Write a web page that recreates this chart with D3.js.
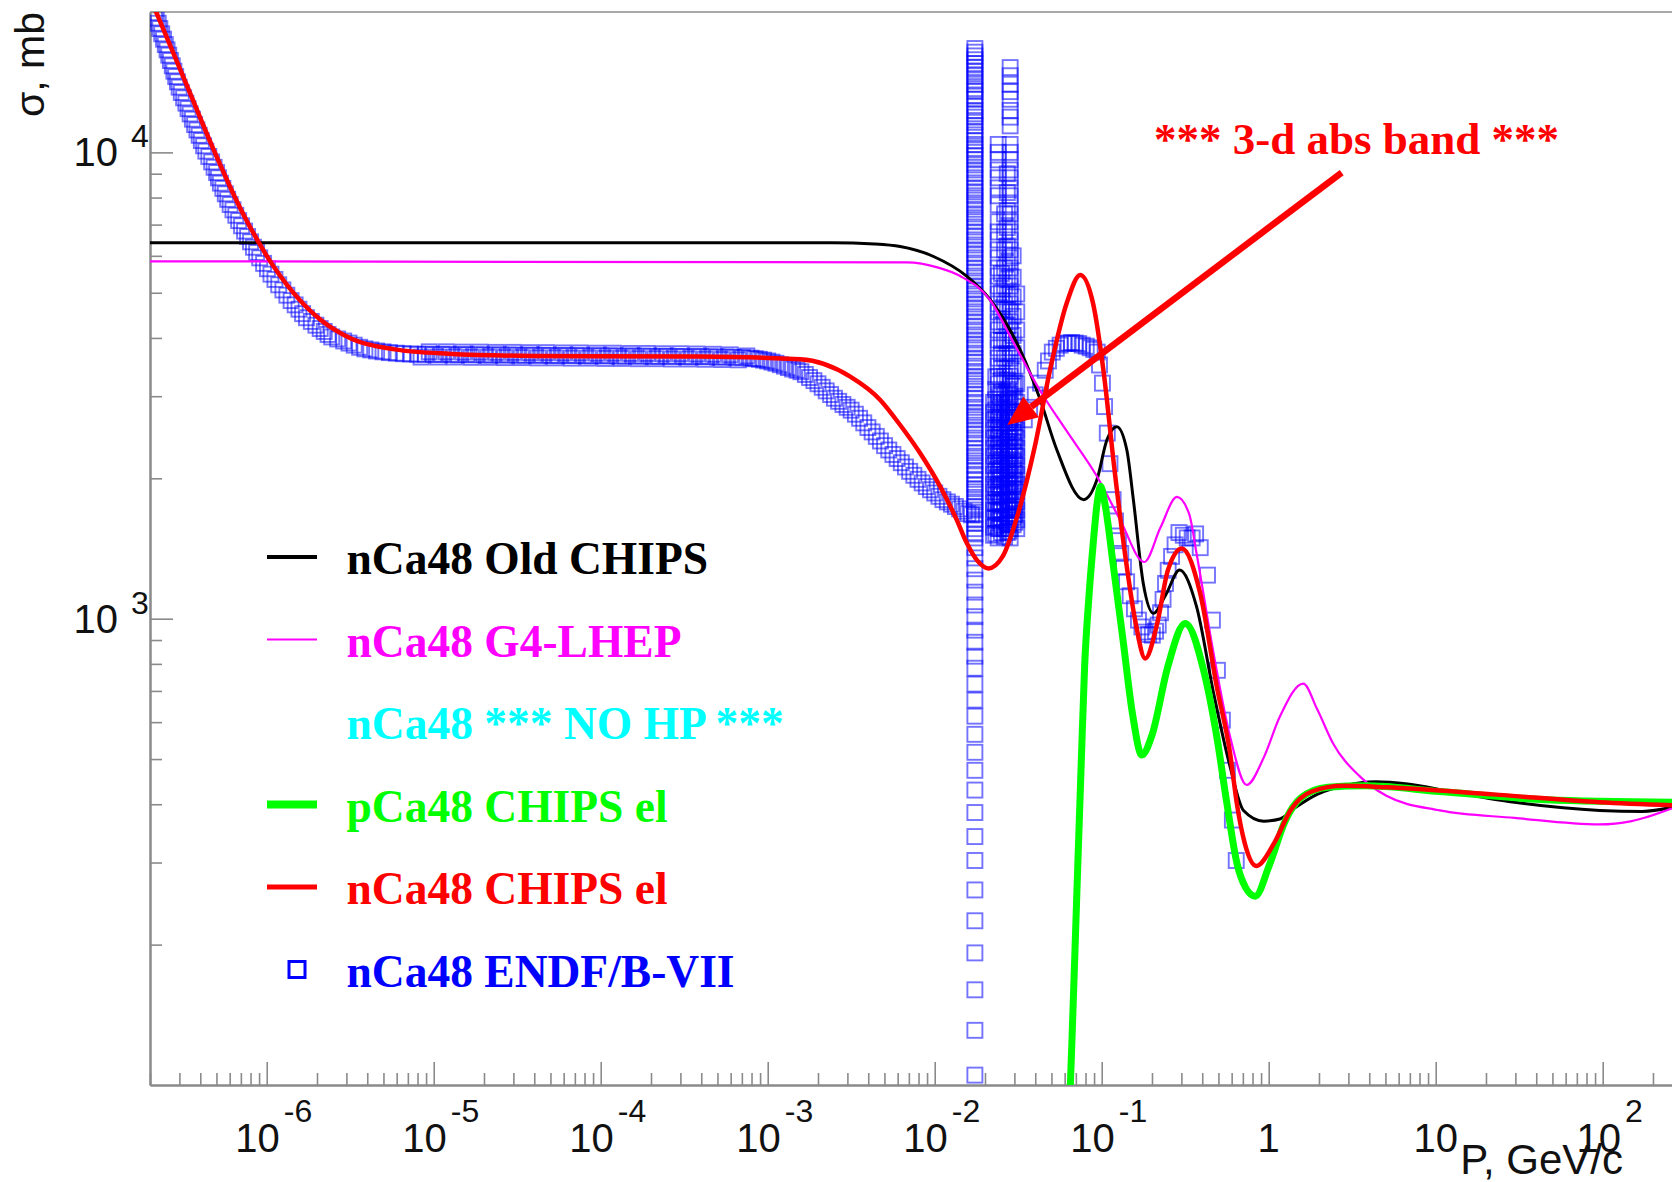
<!DOCTYPE html>
<html>
<head>
<meta charset="utf-8">
<script src="https://cdn.jsdelivr.net/npm/d3@7"></script>
<style>
  html, body { margin: 0; padding: 0; background: #fff; }
  svg { display: block; }
</style>
</head>
<body>
<svg id="chart" width="1672" height="1182"></svg>
<script>
// ---- Data: momentum P [GeV/c], cross section sigma [mb] ----

const oldChips = [
  [2.0e-7, 6400], [2.42e-3, 6400], [4.36e-3, 6360], [6.21e-3, 6280], [9.84e-3, 5980],
  [0.0156, 5420], [0.0215, 4830], [0.0325, 3770], [0.0428, 2950], [0.0539, 2300],
  [0.0779, 1800], [0.0936, 1985], [0.1075, 2420], [0.1232, 2580], [0.1414, 2300],
  [0.1547, 1800], [0.1774, 1190], [0.2040, 1027], [0.2416, 1124], [0.2926, 1271],
  [0.3698, 1061], [0.4679, 692], [0.5875, 481], [0.7063, 388], [0.934, 368],
  [1.165, 372], [1.452, 394], [1.949, 420], [2.814, 438], [4.375, 447],
  [6.80, 442], [12.25, 426], [29.6, 404], [95.9, 388], [172.7, 386], [260.6, 394]
];

const g4Lhep = [
  [2.0e-7, 5840], [6.79e-3, 5810], [0.0105, 5660], [0.0142, 5430], [0.0214, 4830],
  [0.0295, 3920], [0.0426, 3090], [0.0615, 2530], [0.0936, 2020], [0.1284, 1634],
  [0.1800, 1323], [0.2245, 1566], [0.2818, 1824], [0.3339, 1677], [0.3698, 1380],
  [0.4679, 841], [0.5875, 558], [0.7383, 440], [0.9344, 504], [1.165, 616],
  [1.610, 726], [1.949, 640], [2.430, 540], [3.510, 459], [5.066, 417],
  [10.57, 388], [29.58, 374], [95.9, 362], [149, 368], [260.5, 392]
];

const pCa48El = [
  [0.0634, 79.8], [0.0662, 121.7], [0.0692, 195.4], [0.0723, 314], [0.0756, 504],
  [0.0790, 789], [0.0838, 1112], [0.0889, 1447], [0.0942, 1786], [0.0985, 1923],
  [0.1044, 1768], [0.1175, 1296], [0.1341, 901], [0.1531, 623], [0.1739, 510],
  [0.1995, 561], [0.2487, 789], [0.3160, 977], [0.4070, 777], [0.4891, 558],
  [0.5616, 402], [0.6466, 298], [0.7275, 265], [0.8302, 254], [1.005, 295],
  [1.253, 368], [1.562, 413], [2.256, 435], [3.775, 438], [10.56, 426],
  [45.96, 409], [260.4, 404]
];

const nCa48El = [
  [2.0e-7, 21500], [3.32e-7, 13940], [4.80e-7, 10150], [6.93e-7, 7600], [1.0e-6, 6000],
  [1.45e-6, 4990], [2.09e-6, 4380], [3.24e-6, 3980], [5.85e-6, 3780], [1.22e-5, 3700],
  [3.95e-5, 3660], [3.94e-4, 3648], [1.566e-3, 3599], [3.12e-3, 3304], [4.717e-3, 2945],
  [6.209e-3, 2602], [8.185e-3, 2263], [0.01079, 1919], [0.01357, 1627], [0.01559, 1451],
  [0.01789, 1335], [0.02101, 1282], [0.02547, 1358], [0.03176, 1695], [0.0396, 2325],
  [0.04935, 3451], [0.06154, 4734], [0.07449, 5458], [0.08885, 4734], [0.1029, 3361],
  [0.1192, 2092], [0.1381, 1372], [0.1600, 975], [0.1821, 822], [0.2147, 975],
  [0.2487, 1268], [0.3020, 1415], [0.3889, 1133], [0.4891, 714], [0.5875, 514],
  [0.6447, 401], [0.7171, 331], [0.8428, 295], [1.082, 331], [1.349, 388],
  [1.811, 426], [2.814, 438], [5.067, 435], [22.04, 420], [95.9, 404], [260.6, 398]
];

// ENDF/B-VII evaluated points: smooth low-momentum region
const endfLow = [
  [2.13e-7, 19940], [2.18e-7, 19420], [2.24e-7, 18920], [2.29e-7, 18430], [2.35e-7, 17960],
  [2.41e-7, 17490], [2.47e-7, 17030], [2.53e-7, 16590], [2.59e-7, 16160], [2.65e-7, 15740],
  [2.72e-7, 15330], [2.78e-7, 14930], [2.85e-7, 14540], [2.92e-7, 14170], [2.99e-7, 13800],
  [3.08e-7, 13440], [3.18e-7, 13090], [3.28e-7, 12750], [3.38e-7, 12410], [3.48e-7, 12090],
  [3.59e-7, 11780], [3.70e-7, 11470], [3.82e-7, 11170], [3.94e-7, 10880], [4.06e-7, 10600],
  [4.19e-7, 10330], [4.32e-7, 10060], [4.50e-7, 9800], [4.68e-7, 9540], [4.84e-7, 9290],
  [5.01e-7, 9050], [5.14e-7, 8820], [5.28e-7, 8590], [5.46e-7, 8370], [5.65e-7, 8150],
  [5.84e-7, 7930], [6.04e-7, 7730], [6.28e-7, 7530], [6.53e-7, 7330], [6.79e-7, 7140],
  [7.07e-7, 6960], [7.37e-7, 6780], [7.68e-7, 6600], [8.0e-7, 6430], [8.33e-7, 6260],
  [8.70e-7, 6100], [9.08e-7, 5940], [9.58e-7, 5780], [1.01e-6, 5630], [1.06e-6, 5480],
  [1.12e-6, 5340], [1.18e-6, 5200], [1.25e-6, 5070], [1.32e-6, 4940], [1.40e-6, 4810],
  [1.48e-6, 4710], [1.56e-6, 4610], [1.64e-6, 4510], [1.73e-6, 4420], [1.85e-6, 4340],
  [1.97e-6, 4260], [2.09e-6, 4190], [2.21e-6, 4130], [2.33e-6, 4070], [2.45e-6, 4020],
  [2.66e-6, 3980], [2.89e-6, 3940], [3.11e-6, 3900], [3.34e-6, 3860], [3.60e-6, 3820],
  [3.87e-6, 3790], [4.20e-6, 3770], [4.55e-6, 3750], [4.97e-6, 3735], [5.43e-6, 3720],
  [5.97e-6, 3710], [6.57e-6, 3700], [7.25e-6, 3695],
  [8.0e-6, 3690], [8.4e-6, 3640], [8.9e-6, 3690], [9.4e-6, 3735], [1.0e-5, 3685],
  [1.06e-5, 3640], [1.12e-5, 3690], [1.19e-5, 3735], [1.26e-5, 3685], [1.33e-5, 3640],
  [1.41e-5, 3680], [1.50e-5, 3730], [1.58e-5, 3685], [1.68e-5, 3635], [1.78e-5, 3680],
  [1.89e-5, 3730], [2.0e-5, 3680], [2.12e-5, 3635], [2.24e-5, 3675], [2.37e-5, 3725],
  [2.51e-5, 3680], [2.66e-5, 3630], [2.82e-5, 3675], [2.99e-5, 3725], [3.16e-5, 3675],
  [3.35e-5, 3630], [3.55e-5, 3670], [3.76e-5, 3720], [3.98e-5, 3675], [4.22e-5, 3625],
  [4.47e-5, 3670], [4.73e-5, 3720], [5.01e-5, 3670], [5.31e-5, 3625], [5.62e-5, 3665],
  [5.96e-5, 3715], [6.31e-5, 3670], [6.68e-5, 3620], [7.08e-5, 3665], [7.50e-5, 3715],
  [7.94e-5, 3665], [8.41e-5, 3620], [8.91e-5, 3660], [9.44e-5, 3710], [1.0e-4, 3665],
  [1.06e-4, 3615], [1.12e-4, 3660], [1.19e-4, 3710], [1.26e-4, 3660], [1.33e-4, 3615],
  [1.41e-4, 3655], [1.50e-4, 3705], [1.58e-4, 3660], [1.68e-4, 3610], [1.78e-4, 3655],
  [1.89e-4, 3705], [2.0e-4, 3655], [2.12e-4, 3610], [2.24e-4, 3650], [2.37e-4, 3700],
  [2.51e-4, 3655], [2.66e-4, 3605], [2.82e-4, 3650], [2.99e-4, 3700], [3.16e-4, 3650],
  [3.35e-4, 3605], [3.55e-4, 3645], [3.76e-4, 3695], [3.98e-4, 3650], [4.22e-4, 3600],
  [4.47e-4, 3645], [4.73e-4, 3690], [5.01e-4, 3640], [5.31e-4, 3595], [5.62e-4, 3640],
  [5.96e-4, 3680], [6.31e-4, 3635], [6.68e-4, 3590], [7.08e-4, 3630], [7.50e-4, 3660],
  [7.94e-4, 3620], [8.41e-4, 3610], [8.91e-4, 3600], [9.44e-4, 3585], [1.0e-3, 3570],
  [1.06e-3, 3550], [1.12e-3, 3530], [1.19e-3, 3505], [1.26e-3, 3480], [1.33e-3, 3455],
  [1.41e-3, 3430], [1.50e-3, 3410], [1.58e-3, 3385], [1.68e-3, 3340], [1.78e-3, 3290],
  [1.89e-3, 3240], [2.0e-3, 3190], [2.12e-3, 3135], [2.24e-3, 3080], [2.38e-3, 3025],
  [2.51e-3, 2970], [2.66e-3, 2925], [2.82e-3, 2880], [2.99e-3, 2840], [3.16e-3, 2800],
  [3.35e-3, 2745], [3.55e-3, 2690], [3.76e-3, 2630], [3.98e-3, 2570], [4.22e-3, 2515],
  [4.47e-3, 2460], [4.73e-3, 2405], [5.01e-3, 2350], [5.31e-3, 2300], [5.62e-3, 2250],
  [5.96e-3, 2205], [6.31e-3, 2160], [6.68e-3, 2115], [7.08e-3, 2070], [7.50e-3, 2030],
  [7.94e-3, 1990], [8.41e-3, 1955], [8.91e-3, 1920], [9.44e-3, 1890], [1.0e-2, 1860],
  [1.06e-2, 1830], [1.12e-2, 1800], [1.19e-2, 1780], [1.26e-2, 1760], [1.33e-2, 1740],
  [1.41e-2, 1720], [1.50e-2, 1700], [1.58e-2, 1680], [1.66e-2, 1670]
];

// ENDF/B-VII resonances: narrow in momentum, each one a column of points
const endfResonances = [
  { p: 0.0174, sigma: [16700, 16400, 16100, 15800, 15500, 15200, 14900,
      14600, 14300, 14000, 13700, 13500, 13200, 13000, 12600, 12300, 12100, 11900, 11600, 11400,
      11100, 10900, 10600, 10400, 10200, 10000, 9820, 9640, 9400, 9170, 9000, 8820, 8600, 8390,
      8230, 8070, 7900, 7720, 7550, 7380, 7240, 7100, 6920, 6750, 6620, 6490, 6330, 6180, 6060,
      5940, 5790, 5650, 5540, 5430, 5300, 5170, 5070, 4970, 4850, 4730, 4640, 4550, 4440, 4330,
      4240, 4160, 4060, 3960, 3880, 3810, 3710, 3620, 3550, 3480, 3390, 3310, 3250, 3190, 3110,
      3030, 2970, 2910, 2840, 2770, 2720, 2670, 2600, 2540, 2490, 2440, 2380, 2320, 2270, 2230,
      2180, 2130, 2080, 2040, 1990, 1940, 1900, 1870, 1820, 1780, 1740, 1710, 1670, 1630, 1600,
      1560, 1520, 1490, 1420, 1350, 1280, 1210, 1140, 1070, 1010, 945, 890, 831, 783, 724,
      669, 618, 565, 517, 473, 429, 384, 341, 303, 262, 225, 192, 160, 131, 105] },
  { p: 0.0225, sigma: [2910, 2770, 2670, 2540, 2440, 2320, 2230, 2130, 2040, 1940, 1870, 1780,
      1710, 1640, 1570, 1510] },
  { p: 0.0232, sigma: [3300, 3100, 2950, 2800, 2680, 2560, 2450, 2350, 2250, 2160, 2070, 1990,
      1910, 1840, 1770, 1700, 1640, 1580, 1520] },
  { p: 0.0240, sigma: [10400, 10000, 9640, 9170, 8820, 8390, 8070, 7720, 7100, 6750, 6490,
      6180, 5940, 5650, 5430, 5170, 4970, 4730, 4550, 4330, 4160, 3960, 3810, 3620, 3480, 3310,
      3190, 3030, 2910, 2770, 2670, 2540, 2440, 2320, 2230, 2130, 2040, 1940, 1870, 1780, 1710,
      1630, 1560, 1490] },
  { p: 0.0245, sigma: [3000, 2850, 2720, 2600, 2480, 2370, 2270, 2170, 2080, 1990, 1910, 1830,
      1760, 1690, 1620, 1560] },
  { p: 0.0251, sigma: [5500, 5000, 4600, 4250, 3950, 3700, 3450, 3250, 3050, 2900, 2760, 2630,
      2510, 2400, 2290, 2190, 2100, 2010, 1930, 1850, 1780, 1710, 1650, 1590, 1530] },
  { p: 0.0262, sigma: [7380, 6750, 6180, 5650, 5170, 4730, 4330, 3960, 3620, 3310, 3030, 2910,
      2770, 2670, 2540, 2440, 2320, 2230, 2130, 2040, 1940, 1870, 1780, 1710, 1630, 1560, 1500] },
  { p: 0.0272, sigma: [9000, 8200, 7500, 6900, 6300, 5800, 5350, 4950, 4600, 4250, 3950, 3700,
      3450, 3250, 3050, 2900, 2760, 2630, 2510, 2400, 2290, 2190, 2100, 2010, 1930, 1850, 1780,
      1710, 1650, 1590, 1530] },
  { p: 0.0277, sigma: [3100, 2940, 2800, 2670, 2550, 2440, 2330, 2230, 2140, 2050, 1960, 1880,
      1800, 1730, 1660, 1600, 1540] },
  { p: 0.0283, sigma: [15200, 14600, 14000, 13500, 13000, 12300, 11900, 11400, 10400,
      10000, 9640, 9170, 8820, 8390, 8070, 7720, 7380, 7100, 6750, 6490, 6180, 5940, 5650, 5430,
      5170, 4970, 4730, 4550, 4330, 4160, 3960, 3810, 3620, 3480, 3310, 3190, 3030, 2910, 2770,
      2670, 2540, 2440, 2320, 2230, 2130, 2040, 1940, 1870, 1780, 1710, 1630, 1560, 1490] },
  { p: 0.0295, sigma: [6000, 5400, 4900, 4450, 4050, 3700, 3400, 3150, 2950, 2780, 2640, 2510,
      2400, 2290, 2190, 2100, 2010, 1930, 1850, 1780, 1710, 1650, 1590] },
  { p: 0.0302, sigma: [3200, 3000, 2850, 2700, 2570, 2450, 2340, 2240, 2140, 2050, 1970, 1890,
      1810, 1740, 1670, 1610] },
  { p: 0.0310, sigma: [4970, 4550, 4160, 3810, 3480, 3190, 2910, 2770, 2670, 2540, 2440, 2320,
      2230, 2130, 2040, 1940, 1870, 1780, 1710, 1630, 1560] }
];

// ENDF/B-VII points above the resonance region
const endfHigh = [
  [0.0344, 2670], [0.0370, 2840], [0.0400, 3020], [0.0430, 3200], [0.0459, 3410],
  [0.0480, 3570], [0.0506, 3730], [0.0535, 3800], [0.0564, 3860], [0.0597, 3890],
  [0.0630, 3900], [0.0660, 3910], [0.0694, 3900], [0.0728, 3890], [0.0764, 3860],
  [0.0808, 3840], [0.0853, 3810], [0.0896, 3780], [0.0940, 3730], [0.0970, 3500],
  [0.101, 3200], [0.104, 2850], [0.108, 2500], [0.112, 2150], [0.117, 1800],
  [0.121, 1620], [0.126, 1470], [0.130, 1380], [0.135, 1290], [0.141, 1200],
  [0.148, 1120], [0.157, 1050], [0.166, 993], [0.174, 960], [0.182, 936],
  [0.191, 925], [0.201, 922], [0.210, 940], [0.218, 969], [0.225, 1030],
  [0.233, 1100], [0.241, 1190], [0.250, 1270], [0.262, 1360], [0.275, 1440],
  [0.290, 1530], [0.308, 1510], [0.325, 1490], [0.348, 1490], [0.365, 1520],
  [0.389, 1420], [0.430, 1240], [0.460, 993], [0.493, 775], [0.528, 606],
  [0.566, 473], [0.606, 370], [0.639, 303]
];

// Axis ticks and labels
const xMajorTicks = [1e-6, 1e-5, 1e-4, 1e-3, 1e-2, 1e-1, 1, 10, 100];
const xTickLabels = [["10", "-6"], ["10", "-5"], ["10", "-4"], ["10", "-3"], ["10", "-2"],
                     ["10", "-1"], ["1", ""], ["10", ""], ["10", "2"]];
const yMajorTicks = [1e3, 1e4];
const yTickLabels = [["10", "3"], ["10", "4"]];

// Legend entries
const legendEntries = [
  { label: "nCa48 Old CHIPS",      color: "#000000", kind: "line", width: 4 },
  { label: "nCa48 G4-LHEP",        color: "#ff00ff", kind: "line", width: 2 },
  { label: "nCa48 *** NO HP ***",  color: "#00ffff", kind: "none" },
  { label: "pCa48 CHIPS el",       color: "#00ff00", kind: "line", width: 8 },
  { label: "nCa48 CHIPS el",       color: "#ff0000", kind: "line", width: 5 },
  { label: "nCa48 ENDF/B-VII",     color: "#0000ff", kind: "marker" }
];

// Annotation: text and arrow endpoints in data coordinates
const bandNote = { text: "*** 3-d abs band ***", p: 0.2054, sigma: 9897 };
const bandArrow = { from: [2.736, 9052], to: [0.02717, 2602] };

// ---- Layout ----
const svg = d3.select("#chart");
const frame = { left: 150, right: 1672, top: 12, bottom: 1085 };
const axisGray = "#8a8a8a";

const x = d3.scaleLog().domain([2e-7, 260]).range([frame.left, frame.right]);
const y = d3.scaleLog().domain([100, 20000]).range([frame.bottom, frame.top]);

svg.append("rect").attr("width", 1672).attr("height", 1182).attr("fill", "#fff");

svg.append("defs").append("clipPath").attr("id", "plotClip")
  .append("rect")
  .attr("x", frame.left).attr("y", frame.top)
  .attr("width", frame.right - frame.left).attr("height", frame.bottom - frame.top);

// minor tick values for a log axis (2..9 in each decade inside the domain)
function minorTicks(scale) {
  const [a, b] = scale.domain();
  const out = [];
  for (let e = Math.floor(Math.log10(a)); e <= Math.ceil(Math.log10(b)); e++) {
    for (let k = 2; k <= 9; k++) {
      const v = k * Math.pow(10, e);
      if (v >= a * 0.999 && v <= b * 1.001) out.push(v);
    }
  }
  return out;
}

// frame top line
svg.append("line")
  .attr("x1", frame.left).attr("x2", frame.right)
  .attr("y1", frame.top).attr("y2", frame.top)
  .attr("stroke", "#a8a8a8").attr("stroke-width", 2);

function styleAxis(g) {
  g.select(".domain").attr("stroke", axisGray).attr("stroke-width", 2);
  g.selectAll(".tick line").attr("stroke", axisGray).attr("stroke-width", 1.6);
  g.selectAll(".tick text").remove();
}

// x axis: minor + major ticks pointing into the frame
svg.append("g").attr("transform", `translate(0,${frame.bottom})`)
  .call(d3.axisBottom(x).tickValues(minorTicks(x).filter(v => !xMajorTicks.includes(v)))
        .tickSize(-12).tickSizeOuter(0).tickFormat(""))
  .call(styleAxis);
svg.append("g").attr("transform", `translate(0,${frame.bottom})`)
  .call(d3.axisBottom(x).tickValues(xMajorTicks).tickSize(-23).tickSizeOuter(0).tickFormat(""))
  .call(styleAxis);

// y axis
svg.append("g").attr("transform", `translate(${frame.left},0)`)
  .call(d3.axisLeft(y).tickValues(minorTicks(y).filter(v => !yMajorTicks.includes(v)))
        .tickSize(-12).tickSizeOuter(0).tickFormat(""))
  .call(styleAxis);
svg.append("g").attr("transform", `translate(${frame.left},0)`)
  .call(d3.axisLeft(y).tickValues(yMajorTicks).tickSize(-23).tickSizeOuter(0).tickFormat(""))
  .call(styleAxis);

const labelFont = "'Liberation Sans', Arial, Helvetica, sans-serif";

// x tick labels: base with optional superscript exponent, centred on the tick
xMajorTicks.forEach((v, i) => {
  const [base, exp] = xTickLabels[i];
  const t = svg.append("text")
    .attr("y", 1152)
    .attr("font-family", labelFont).attr("font-size", 40).attr("fill", "#111");
  t.append("tspan").text(base);
  if (exp) {
    t.append("tspan").attr("dx", 4).attr("dy", -30).attr("font-size", 32).text(exp);
  }
  const w = t.node().getBBox().width;
  t.attr("x", x(v) - w / 2 + (exp ? 7 : 0));
});

// y tick labels
yMajorTicks.forEach((v, i) => {
  const [base, exp] = yTickLabels[i];
  svg.append("text").attr("x", 118).attr("y", y(v) + 14)
    .attr("text-anchor", "end")
    .attr("font-family", labelFont).attr("font-size", 40).attr("fill", "#111")
    .text(base);
  svg.append("text").attr("x", 131).attr("y", y(v) - 5)
    .attr("font-family", labelFont).attr("font-size", 32).attr("fill", "#111")
    .text(exp);
});

// axis titles
svg.append("text").attr("x", 1623).attr("y", 1174).attr("text-anchor", "end")
  .attr("font-family", labelFont).attr("font-size", 42).attr("fill", "#111")
  .text("P, GeV/c");
svg.append("text").attr("transform", "translate(44,12) rotate(-90)")
  .attr("text-anchor", "end")
  .attr("font-family", labelFont).attr("font-size", 41).attr("fill", "#111")
  .text("σ, mb");

// ---- Plot contents ----
const plot = svg.append("g").attr("clip-path", "url(#plotClip)");

// ENDF points as open squares
const endfPoints = endfLow.concat(
  endfResonances.flatMap(r => r.sigma.map(s => [r.p, s])),
  endfHigh
);
const sq = 15;
plot.append("g").selectAll("rect").data(endfPoints).join("rect")
  .attr("x", d => x(d[0]) - sq / 2)
  .attr("y", d => y(d[1]) - sq / 2)
  .attr("width", sq).attr("height", sq)
  .attr("fill", "none")
  .attr("stroke", "#0000ff").attr("stroke-opacity", 0.55).attr("stroke-width", 1.9);

const line = d3.line().x(d => x(d[0])).y(d => y(d[1])).curve(d3.curveMonotoneX);

const curves = [
  { data: oldChips, color: "#000000", width: 3 },
  { data: g4Lhep,   color: "#ff00ff", width: 2.2 },
  { data: pCa48El,  color: "#00ff00", width: 7 },
  { data: nCa48El,  color: "#ff0000", width: 4.5 }
];
curves.forEach(c => {
  plot.append("path").datum(c.data)
    .attr("d", line)
    .attr("fill", "none")
    .attr("stroke", c.color).attr("stroke-width", c.width)
    .attr("stroke-linejoin", "round");
});

// ---- Legend ----
const legend = svg.append("g");
const legRow0 = 557, legStep = 82.5, legLineX0 = 267, legLineX1 = 317, legTextX = 346.5;
legendEntries.forEach((e, i) => {
  const ly = legRow0 + i * legStep;
  if (e.kind === "line") {
    legend.append("line").attr("x1", legLineX0).attr("x2", legLineX1)
      .attr("y1", ly).attr("y2", ly)
      .attr("stroke", e.color).attr("stroke-width", e.width);
  } else if (e.kind === "marker") {
    legend.append("rect").attr("x", 297 - 8).attr("y", ly - 8)
      .attr("width", 16).attr("height", 16)
      .attr("fill", "none").attr("stroke", e.color).attr("stroke-width", 3);
  }
  legend.append("text").attr("x", legTextX).attr("y", ly + 17)
    .attr("font-family", "'Liberation Serif', 'Times New Roman', serif")
    .attr("font-weight", "bold").attr("font-size", 45.5)
    .attr("fill", e.color)
    .text(e.label);
});

// ---- Annotation ----
svg.append("text")
  .attr("x", x(bandNote.p)).attr("y", y(bandNote.sigma))
  .attr("font-family", "'Liberation Serif', 'Times New Roman', serif")
  .attr("font-weight", "bold").attr("font-size", 45).attr("fill", "#ff0000")
  .text(bandNote.text);

const ax0 = x(bandArrow.from[0]), ay0 = y(bandArrow.from[1]);
const ax1 = x(bandArrow.to[0]),   ay1 = y(bandArrow.to[1]);
const ang = Math.atan2(ay1 - ay0, ax1 - ax0);
const headLen = 30, headHalf = 13;
const bx = ax1 - headLen * Math.cos(ang), by = ay1 - headLen * Math.sin(ang);
svg.append("line")
  .attr("x1", ax0).attr("y1", ay0).attr("x2", bx).attr("y2", by)
  .attr("stroke", "#ff0000").attr("stroke-width", 6.5);
const head = d3.path();
head.moveTo(ax1, ay1);
head.lineTo(bx + headHalf * Math.sin(ang), by - headHalf * Math.cos(ang));
head.lineTo(bx - headHalf * Math.sin(ang), by + headHalf * Math.cos(ang));
head.closePath();
svg.append("path").attr("d", head.toString()).attr("fill", "#ff0000");
</script>
</body>
</html>
